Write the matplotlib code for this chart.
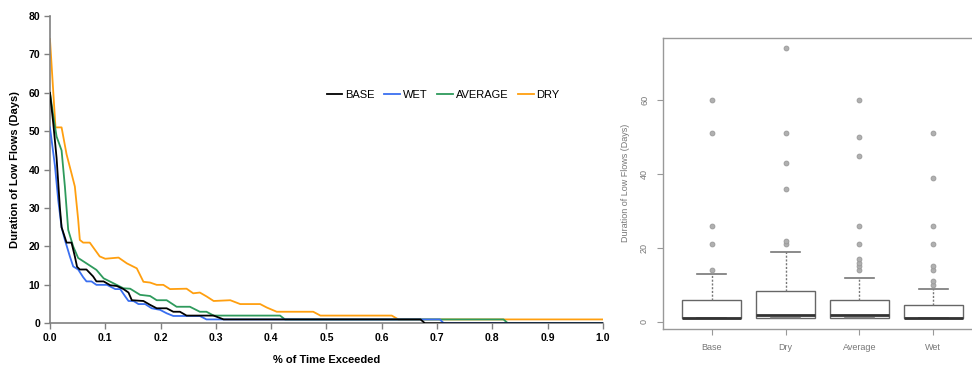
import numpy as np
import matplotlib
matplotlib.use('Agg')
import matplotlib.pyplot as plt

plt.rcParams['font.family'] = ['Liberation Sans', 'DejaVu Sans']

# duration curves: fraction of time exceeded vs. duration (days)
base_x = [0, 0.006, 0.012, 0.018, 0.021, 0.030, 0.039, 0.045, 0.049, 0.054, 0.066, 0.078, 0.084,
          0.097, 0.109, 0.121, 0.133, 0.142, 0.148, 0.169, 0.181, 0.193, 0.211, 0.223, 0.235,
          0.247, 0.296, 0.314, 0.670, 0.678, 1.0]
base_y = [60, 52, 43, 30, 25, 21, 21, 17.4, 14.7, 14, 14, 12.2, 10.9, 10.9, 9.9, 9.7, 8.9, 8.0,
          6, 5.8, 4.8, 3.9, 3.9, 3, 3, 2, 2, 1, 1, 0, 0]

wet_x = [0, 0.009, 0.015, 0.021, 0.027, 0.036, 0.042, 0.051, 0.060, 0.066, 0.075, 0.084, 0.103,
         0.118, 0.127, 0.136, 0.142, 0.151, 0.160, 0.172, 0.184, 0.199, 0.211, 0.223, 0.271,
         0.283, 0.705, 0.712, 1.0]
wet_y = [51, 41, 32, 25, 21.7, 17.4, 14.8, 14, 12, 10.9, 10.9, 10, 10, 8.9, 8.9, 7, 5.8, 5.8,
         5, 5, 3.9, 3.5, 2.6, 1.9, 1.9, 1, 1, 0, 0]

avg_x = [0, 0.006, 0.012, 0.021, 0.027, 0.033, 0.042, 0.051, 0.066, 0.084, 0.097, 0.115, 0.133,
         0.145, 0.163, 0.181, 0.193, 0.211, 0.229, 0.253, 0.271, 0.283, 0.296, 0.416, 0.425,
         0.820, 0.828, 1.0]
avg_y = [60, 54, 48.6, 45, 35.6, 24.3, 20, 17, 15.6, 13.9, 11.7, 10.4, 9.1, 9, 7.4, 7.1, 6, 6,
         4.3, 4.3, 3, 3, 2, 2, 1, 1, 0, 0]

dry_x = [0, 0.010, 0.021, 0.030, 0.039, 0.045, 0.051, 0.054, 0.060, 0.072, 0.090, 0.100, 0.124,
         0.139, 0.157, 0.169, 0.181, 0.193, 0.205, 0.217, 0.247, 0.259, 0.271, 0.283, 0.296,
         0.326, 0.344, 0.380, 0.392, 0.410, 0.476, 0.489, 0.618, 0.630, 1.0]
dry_y = [74, 51, 51, 44, 39, 35.6, 27, 21.7, 21, 21, 17.4, 16.8, 17.1, 15.6, 14.3, 10.8, 10.6,
         10, 10, 8.9, 9, 7.8, 8, 7, 5.8, 6, 5, 5, 4.1, 3, 3, 2, 2, 1, 1]

# box plot summary
box_labels = ['Base', 'Dry', 'Average', 'Wet']
box_q1 = [1, 1, 1, 1]
box_med = [1, 2, 2, 1]
box_q3 = [6, 8.4, 6, 4.5]
box_lo = [1, 1, 1, 1]
box_hi = [13, 19, 12, 9]
box_out = [[14, 21, 26, 51, 60],
           [21, 22, 36, 43, 51, 74],
           [14, 15, 16, 17, 21, 26, 45, 50, 60],
           [10, 11, 14, 15, 21, 26, 39, 51]]

fig = plt.figure(figsize=(9.72, 3.72), dpi=100)

# left: duration curves
ax = fig.add_axes([0.0514, 0.131, 0.5690, 0.826])
ax.plot(avg_x, avg_y, color='#2e9a5c', lw=1.3, label='AVERAGE', zorder=3)
ax.plot(dry_x, dry_y, color='#ff9f0f', lw=1.3, label='DRY', zorder=2)
ax.plot(base_x, base_y, color='black', lw=1.3, label='BASE', zorder=4)
ax.plot(wet_x, wet_y, color='#3a6ff0', lw=1.3, label='WET', zorder=3)
ax.set_xlim(0, 1)
ax.set_ylim(0, 80)
ax.set_xticks(np.arange(0, 1.01, 0.1))
ax.set_xticklabels(['%.1f' % v for v in np.arange(0, 1.01, 0.1)])
ax.set_yticks(range(0, 81, 10))
for s in ['top', 'right']:
    ax.spines[s].set_visible(False)
for s in ['left', 'bottom']:
    ax.spines[s].set_color('#808080')
    ax.spines[s].set_linewidth(1.2)
ax.tick_params(direction='out', length=4, width=1, color='#808080', labelsize=7.5, pad=3)
for t in ax.get_xticklabels() + ax.get_yticklabels():
    t.set_fontweight('bold')
ax.set_xlabel('% of Time Exceeded', fontsize=8, fontweight='bold', labelpad=9)
ax.set_ylabel('Duration of Low Flows (Days)', fontsize=8, fontweight='bold', labelpad=6)
h, l = ax.get_legend_handles_labels()
order = [l.index(n) for n in ['BASE', 'WET', 'AVERAGE', 'DRY']]
ax.legend([h[i] for i in order], [l[i] for i in order], loc='center',
          bbox_to_anchor=(0.711, 0.743), ncol=4, frameon=False, fontsize=8,
          handlelength=1.4, handletextpad=0.25, columnspacing=0.9)

# right: box plot
bx = fig.add_axes([0.682, 0.1156, 0.3284, 0.7831])
stats = []
for i in range(len(box_labels)):
    stats.append({'label': box_labels[i], 'q1': box_q1[i], 'med': box_med[i],
                  'q3': box_q3[i], 'whislo': box_lo[i], 'whishi': box_hi[i],
                  'fliers': box_out[i]})
bx.bxp(stats, positions=[1, 2, 3, 4], widths=0.8, patch_artist=True,
       boxprops=dict(facecolor='white', edgecolor='#666666', linewidth=1.0),
       medianprops=dict(color='#333333', linewidth=2.0),
       whiskerprops=dict(color='#777777', linewidth=1.0, linestyle=(0, (1.5, 1.2))),
       capprops=dict(color='#777777', linewidth=1.2),
       capwidths=0.4,
       flierprops=dict(marker='o', markersize=3.5, markerfacecolor='#b0b0b0',
                       markeredgecolor='#999999', markeredgewidth=0.6))
bx.set_xlim(0.34, 4.66)
bx.set_ylim(-1.92, 76.92)
bx.set_yticks([0, 20, 40, 60])
bx.set_yticklabels(['0', '20', '40', '60'], rotation=90, va='center')
bx.set_xticks([1, 2, 3, 4])
bx.set_xticklabels(box_labels)
for s in bx.spines.values():
    s.set_color('#999999')
    s.set_linewidth(1.0)
bx.tick_params(direction='out', length=4, width=0.8, color='#999999',
               labelcolor='#777777', labelsize=6.5, pad=6)
bx.set_ylabel('Duration of Low Flows (Days)', fontsize=6.5, color='#777777', labelpad=7)

fig.savefig('out.png', dpi=100)
